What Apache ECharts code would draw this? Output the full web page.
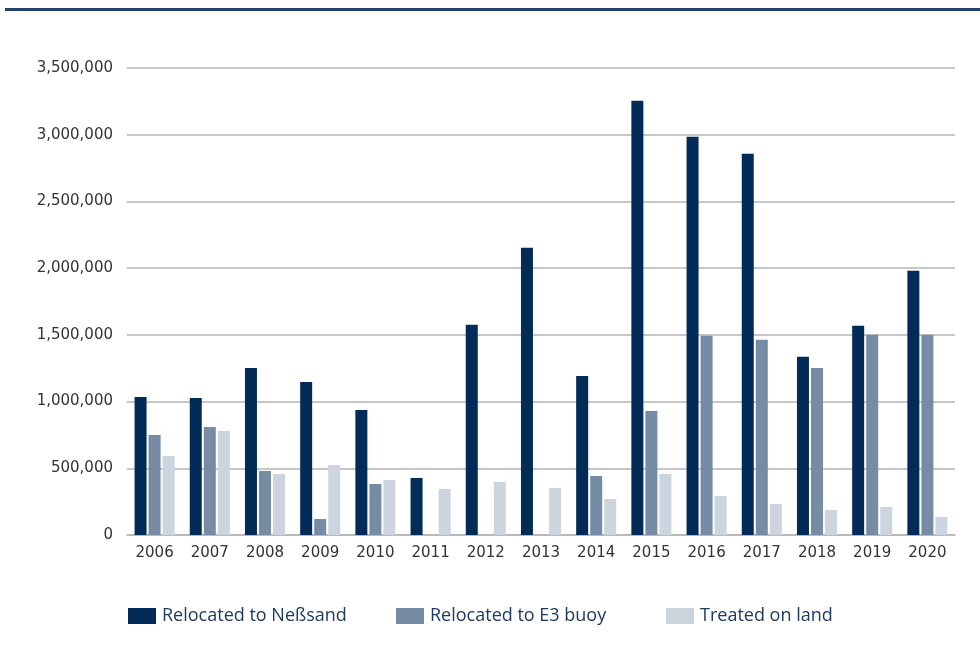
<!DOCTYPE html>
<html>
<head>
<meta charset="utf-8">
<script src="https://cdn.jsdelivr.net/npm/echarts@6/dist/echarts.min.js"></script>
<style>
  html, body { margin: 0; padding: 0; background: #fff; }
  #chart { width: 980px; height: 646px; }
</style>
</head>
<body>
<div id="chart"></div>
<script>
// years on the x axis
const years = ['2006', '2007', '2008', '2009', '2010', '2011', '2012', '2013',
  '2014', '2015', '2016', '2017', '2018', '2019', '2020'];

// cubic metres per year
const nessand = [1035000, 1027500, 1252500, 1147500, 937500, 427500, 1575000, 2152500,
  1192500, 3255000, 2985000, 2857500, 1335000, 1567500, 1980000];
const e3buoy = [750000, 810000, 480000, 120000, 382500, 0, 0, 0,
  442500, 930000, 1492500, 1462500, 1252500, 1500000, 1500000];
const onLand = [592500, 780000, 457500, 525000, 412500, 345000, 397500, 352500,
  270000, 457500, 292500, 232500, 187500, 210000, 135000];

const seriesNames = ['Relocated to Neßsand', 'Relocated to E3 buoy', 'Treated on land'];
const colors = ['#032b57', '#768ca4', '#ccd4de'];

const chart = echarts.init(document.getElementById('chart'));

// one legend per item so each sits where the original put it
const legendBase = (name, left) => ({
  data: [name],
  left: left,
  top: 602,
  itemWidth: 28,
  itemHeight: 16,
  icon: 'rect',
  textStyle: {
    color: '#1d3b60',
    fontFamily: 'Open Sans',
    fontSize: 18,
    padding: [0, 0, 0, 1]
  }
});

const makeBar = (name, data, color) => ({
  name: name,
  type: 'bar',
  data: data,
  barWidth: 12,
  barGap: '17%',
  itemStyle: { color: color },
  emphasis: { disabled: true }
});

const option = {
  animation: false,
  graphic: [
    {
      type: 'rect',
      shape: { x: 5, y: 8, width: 975, height: 3 },
      style: { fill: '#23446a' }
    }
  ],
  legend: [
    legendBase(seriesNames[0], 123),
    legendBase(seriesNames[1], 391),
    legendBase(seriesNames[2], 661)
  ],
  grid: {
    left: 127,
    right: 25,
    top: 68,
    bottom: 111
  },
  xAxis: {
    type: 'category',
    data: years,
    axisTick: { show: false },
    axisLine: { lineStyle: { color: '#b5b5b5', width: 1.5 } },
    axisLabel: {
      color: '#333',
      fontFamily: 'DejaVu Sans',
      fontSize: 15,
      margin: 11
    }
  },
  yAxis: {
    type: 'value',
    min: 0,
    max: 3500000,
    interval: 500000,
    axisLine: { show: false },
    axisTick: { show: false },
    axisLabel: {
      color: '#333',
      fontFamily: 'DejaVu Sans',
      fontSize: 15,
      margin: 14,
      formatter: v => v.toLocaleString('en-US')
    },
    splitLine: { lineStyle: { color: '#b5b5b5', width: 1.5 } }
  },
  series: [
    makeBar(seriesNames[0], nessand, colors[0]),
    makeBar(seriesNames[1], e3buoy, colors[1]),
    makeBar(seriesNames[2], onLand, colors[2])
  ]
};

chart.setOption(option);
</script>
</body>
</html>
